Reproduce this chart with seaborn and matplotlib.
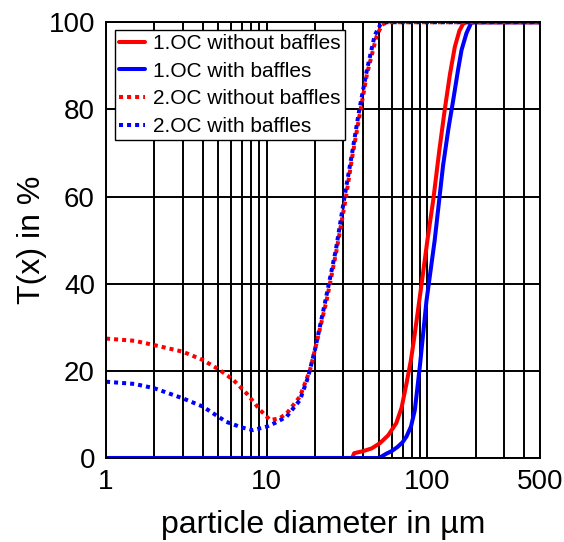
import numpy as np
import pandas as pd
import matplotlib
matplotlib.use("Agg")
import matplotlib.pyplot as plt
import seaborn as sns
from matplotlib.ticker import FixedLocator, NullFormatter

# values
oc1_nobaf_x = [1, 34, 35, 40, 45, 50.6, 57, 64, 69, 74, 79, 83.5, 92, 100, 108.7, 118, 128, 138, 148, 158, 167, 175, 500]
oc1_nobaf_y = [0, 0, 1.1, 1.6, 2.2, 3.4, 5.2, 8, 11.5, 17, 22.5, 28.6, 40, 50, 59.2, 70, 79.8, 88, 94.3, 98, 99.7, 100, 100]

oc1_baf_x = [1, 50, 55.6, 60, 65, 70, 74, 79, 83.5, 89.7, 98.6, 111, 125, 135, 144.5, 155, 163, 175, 188, 500]
oc1_baf_y = [0, 0, 1, 1.6, 2.5, 3.6, 4.9, 7.2, 11, 21, 36, 50, 67, 75.5, 82, 89, 93.6, 97.5, 100, 100]

oc2_nobaf_x = [1, 1.5, 2, 3, 4, 5.1, 6.2, 7.5, 9.1, 10.5, 12, 13.3, 16.1, 18.6,
               20.4, 23.6, 27.2, 31, 34, 38, 42, 48, 52, 56, 500]
oc2_nobaf_y = [27.4, 26.9, 25.9, 24.4, 22.5, 20.2, 17.9, 14.8, 11, 8.7, 9.1, 10.2, 14.1, 20.2,
               26.3, 36.2, 47.7, 59.5, 69, 79, 88, 96.5, 99.4, 100, 100]

oc2_baf_x = [1, 1.5, 2, 3, 4, 5.6, 7, 8.2, 10, 11.5, 13.3, 16.1, 18.1, 20,
             23, 27, 30.5, 34, 37.5, 42, 47, 51, 54, 500]
oc2_baf_y = [17.5, 17, 16, 13.7, 11.8, 8.3, 7.0, 6.4, 7.2, 8.2, 9.5, 13.3, 18.6, 25,
             35.5, 48, 60, 70, 79.5, 89, 97, 99.5, 100, 100]

x_ticks = [1, 10, 100, 500]
y_ticks = [0, 20, 40, 60, 80, 100]

sns.set_style("white")
plt.rcParams['font.family'] = ['Liberation Sans', 'DejaVu Sans']
plt.rcParams['text.color'] = 'black'
plt.rcParams['axes.labelcolor'] = 'black'

fig, ax = plt.subplots(figsize=(5.64, 5.42), dpi=100)
fig.subplots_adjust(left=0.188, right=0.957, top=0.959, bottom=0.155)

series = [
    ("1.OC without baffles", oc1_nobaf_x, oc1_nobaf_y, "#ff0000", "-"),
    ("1.OC with baffles", oc1_baf_x, oc1_baf_y, "#0000ff", "-"),
    ("2.OC without baffles", oc2_nobaf_x, oc2_nobaf_y, "#ff0000", (0, (1, 1))),
    ("2.OC with baffles", oc2_baf_x, oc2_baf_y, "#0000ff", (0, (1, 1))),
]
for name, xs, ys, col, ls in series:
    df = pd.DataFrame({"x": xs, "y": ys})
    sns.lineplot(data=df, x="x", y="y", ax=ax, color=col, linestyle=ls,
                 linewidth=2.9, label=name)

ax.set_xscale("log")
ax.set_xlim(1, 500)
ax.set_ylim(0, 100)

minor = [m * 10 ** e for e in range(0, 3) for m in range(2, 10) if m * 10 ** e < 500]
ax.xaxis.set_major_locator(FixedLocator(x_ticks))
ax.xaxis.set_minor_locator(FixedLocator(minor))
ax.xaxis.set_minor_formatter(NullFormatter())
ax.set_xticklabels([str(t) for t in x_ticks])
ax.set_yticks(y_ticks)

ax.grid(which="both", axis="x", color="black", linewidth=1.4)
ax.grid(which="major", axis="y", color="black", linewidth=1.4)
ax.set_axisbelow(True)
for sp in ax.spines.values():
    sp.set_color("black")
    sp.set_linewidth(1.4)

ax.tick_params(which="both", length=0, labelsize=20, pad=8, colors="black")
ax.set_xlabel("particle diameter in µm", fontsize=23, labelpad=11)
ax.set_ylabel("T(x) in %", fontsize=23, labelpad=1)

leg = ax.legend(loc="upper left", bbox_to_anchor=(0.02, 0.983), fontsize=15,
                frameon=True, fancybox=False, framealpha=1, edgecolor="black",
                handlelength=1.25, handletextpad=0.4, borderpad=0.2,
                labelspacing=0.42, borderaxespad=0)
leg.get_frame().set_linewidth(1.0)

fig.savefig("out.png", dpi=100)
